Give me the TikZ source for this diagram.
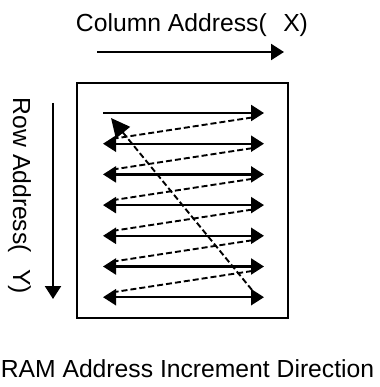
\documentclass[tikz,border=0pt]{standalone}
\usepackage{fontspec}
\setmainfont{Liberation Sans}
\usetikzlibrary{arrows.meta}
\begin{document}
\begin{tikzpicture}[x=1pt,y=-1pt,
  lbl/.style={font=\fontsize{24.7}{30}\selectfont, inner sep=0pt},
  solidarrow/.style={line width=2.3pt, -{Triangle[length=13pt,width=16pt]}},
  botharrow/.style={line width=2.3pt, {Triangle[length=13pt,width=16pt]}-{Triangle[length=13pt,width=16pt]}},
  dashline/.style={line width=1.9pt, dash pattern=on 6pt off 3pt},
  diagarrow/.style={dashline, -{Triangle[length=19pt,width=18pt]}},
  ramframe/.style={draw, line width=2.3pt, minimum width=211pt, minimum height=235pt, inner sep=0pt}]
\useasboundingbox (0,0) rectangle (379,387);
% frame
\node[ramframe] (ram) at (182.5,200.5) {};
% labels
\node[lbl, anchor=base] (colx) at (192,31.7) {Column Address(\hspace{16.5pt}X)};
\node[lbl, anchor=base, rotate=-90] (rowy) at (13,196) {Row Address(\hspace{16.5pt}Y)};
\node[lbl, anchor=base] (title) at (187.5,377) {RAM Address Increment Direction};
% axis arrows
\coordinate (cs) at (97,52);
\coordinate (ce) at (284,52);
\draw[solidarrow] (cs) -- (ce);
\coordinate (rs) at (53,103);
\coordinate (re) at (53,299);
\draw[solidarrow] (rs) -- (re);
% rows
\foreach \i in {1,...,7}{
  \pgfmathsetmacro\yy{113+30.7*(\i-1)}
  \coordinate (L\i) at (103,\yy);
  \coordinate (R\i) at (264,\yy);
}
\draw[solidarrow] (L1) -- (R1);
\foreach \i in {2,...,7}{
  \draw[botharrow] (L\i) -- (R\i);
}
% dashed returns
\foreach \i [evaluate=\i as \j using int(\i+1)] in {1,...,6}{
  \draw[dashline] ([shift={(-12,4.5)}]R\i) -- ([shift={(7,-4.5)}]L\j);
}
% diagonal return
\coordinate (dS) at (252,290);
\coordinate (dE) at (111,118);
\draw[diagarrow] (dS) -- (dE);
\end{tikzpicture}
\end{document}
